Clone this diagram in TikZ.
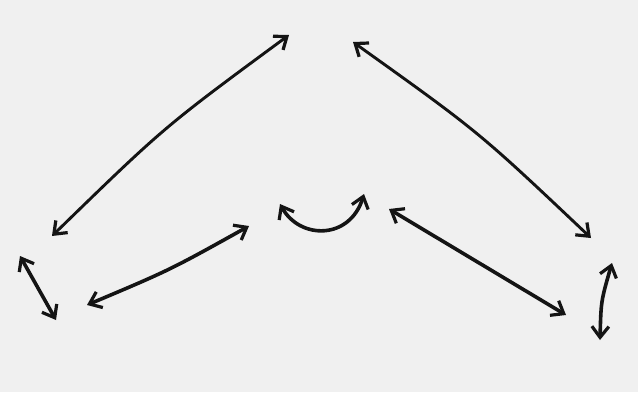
\documentclass[tikz,border=0pt]{standalone}
\usetikzlibrary{arrows.meta}
\definecolor{bgcol}{RGB}{240,240,240}
\definecolor{ink}{RGB}{20,20,20}
\tikzset{
  sketch/.style={draw=ink, line width=3.6pt, line cap=round,
    {Straight Barb[length=11pt,width=17pt,line width=3.2pt]}-{Straight Barb[length=11pt,width=17pt,line width=3.2pt]}},
  thin sketch/.style={sketch, line width=2.9pt}
}
\begin{document}
\begin{tikzpicture}[x=1pt,y=-1pt]
\fill[bgcol] (0,0) rectangle (638,392);
\useasboundingbox (0,0) rectangle (638,392);
% endpoints
\coordinate (bl1) at (52,236);
\coordinate (bl2) at (289,35);
\coordinate (br1) at (353,42);
\coordinate (br2) at (591,238);
\coordinate (sl1) at (20,256);
\coordinate (sl2) at (56,320);
\coordinate (lm1) at (87,305);
\coordinate (lm2) at (249,226);
\coordinate (c1) at (280,204);
\coordinate (c2) at (364,194);
\coordinate (rm1) at (389,209);
\coordinate (rm2) at (566,315);
\coordinate (sr1) at (612,263);
\coordinate (sr2) at (600,340);
% arrows
\draw[thin sketch] (bl1) .. controls (164,127) .. (bl2);
\draw[thin sketch] (br1) .. controls (479,132) .. (br2);
\draw[sketch] (sl1) -- (sl2);
\draw[sketch] (lm1) .. controls (170,270) .. (lm2);
\draw[sketch] (c1) .. controls (300,240) and (350,240) .. (c2);
\draw[sketch] (rm1) -- (rm2);
\draw[sketch] (sr1) .. controls (601,301) .. (sr2);
\end{tikzpicture}
\end{document}
